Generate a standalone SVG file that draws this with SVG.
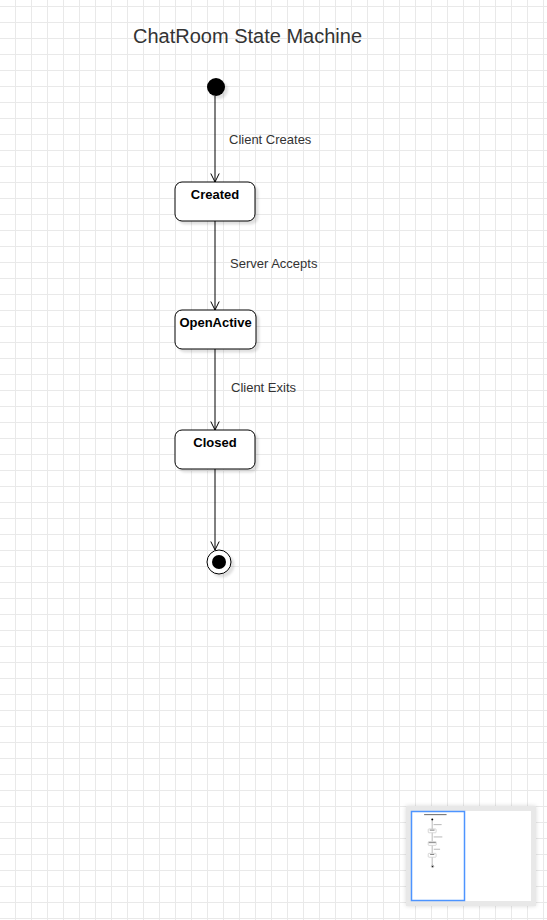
<svg xmlns="http://www.w3.org/2000/svg" width="547" height="920" viewBox="0 0 547 920">
  <style>
    .state { fill: #ffffff; stroke: #000000; stroke-width: 1; }
    .stext { font-family: "Liberation Sans", Arial, sans-serif; font-size: 13px; font-weight: bold; fill: #000000; text-anchor: middle; }
    .lbl { font-family: "Liberation Sans", Arial, sans-serif; font-size: 13px; fill: #333333; }
    .title { font-family: "Liberation Sans", Arial, sans-serif; font-size: 20px; fill: #333333; }
    .edge { stroke: #000000; stroke-width: 1; fill: none; }
    .mm { fill: #666666; }
  </style>
  <defs>
    <pattern id="grid" x="15" y="6" width="16" height="16" patternUnits="userSpaceOnUse">
      <path d="M0.5 0V16M0 0.5H16" stroke="#e9e9e9" stroke-width="1" fill="none"/>
    </pattern>
    <filter id="shadow" x="-30%" y="-30%" width="170%" height="170%">
      <feDropShadow dx="3" dy="3" stdDeviation="1.2" flood-color="#000000" flood-opacity="0.12"/>
    </filter>
    <filter id="mmshadow" x="-10%" y="-10%" width="120%" height="120%">
      <feDropShadow dx="0" dy="0" stdDeviation="2" flood-color="#000000" flood-opacity="0.15"/>
    </filter>
    <marker id="open" viewBox="0 0 10 10" refX="9" refY="5" markerWidth="10" markerHeight="10" markerUnits="userSpaceOnUse" orient="auto">
      <path d="M0.5 0.8L9 5L0.5 9.2" fill="none" stroke="#000000" stroke-width="1"/>
    </marker>
  </defs>

  <rect x="0" y="0" width="547" height="920" fill="#ffffff"/>
  <rect x="0" y="0" width="547" height="920" fill="url(#grid)"/>

  <text class="title" x="133" y="43">ChatRoom State Machine</text>

  <g id="connectors">
    <path class="edge" d="M215 96V182" marker-end="url(#open)"/>
    <path class="edge" d="M215 221V310" marker-end="url(#open)"/>
    <path class="edge" d="M215 349V430" marker-end="url(#open)"/>
    <path class="edge" d="M215 469V550" marker-end="url(#open)"/>
    <text class="lbl" x="229" y="144">Client Creates</text>
    <text class="lbl" x="230" y="268">Server Accepts</text>
    <text class="lbl" x="231" y="392">Client Exits</text>
  </g>

  <g id="initial">
    <circle cx="216" cy="87" r="9" fill="#000000" filter="url(#shadow)"/>
  </g>

  <g id="created">
    <rect class="state" x="175" y="182" width="80" height="39" rx="7" filter="url(#shadow)"/>
    <text class="stext" x="215" y="199">Created</text>
  </g>

  <g id="openactive">
    <rect class="state" x="175" y="310" width="81" height="39" rx="7" filter="url(#shadow)"/>
    <text class="stext" x="215.5" y="327">OpenActive</text>
  </g>

  <g id="closed">
    <rect class="state" x="175" y="430" width="80" height="39" rx="7" filter="url(#shadow)"/>
    <text class="stext" x="215" y="447">Closed</text>
  </g>

  <g id="final">
    <circle cx="219" cy="562" r="12" fill="#ffffff" stroke="#000000" stroke-width="1" filter="url(#shadow)"/>
    <circle cx="219" cy="562" r="7" fill="#000000"/>
  </g>

  <g id="minimap">
    <rect x="406" y="806" width="130" height="100" fill="#e8e8e8" filter="url(#mmshadow)"/>
    <rect x="411" y="811" width="120" height="90" fill="#ffffff"/>
    <g transform="translate(411,811) scale(0.0985)">
      <rect x="133" y="32" width="228" height="10" class="mm"/>
      <circle cx="216" cy="87" r="10" fill="#000000"/>
      <path d="M215 96V550" stroke="#888888" stroke-width="6" fill="none"/>
      <rect x="229" y="136" width="82" height="7" fill="#999999"/>
      <rect x="230" y="260" width="88" height="7" fill="#999999"/>
      <rect x="231" y="384" width="64" height="7" fill="#999999"/>
      <rect x="175" y="182" width="80" height="39" rx="7" fill="#ffffff" stroke="#cccccc" stroke-width="8"/>
      <rect x="191" y="190" width="48" height="8" class="mm"/>
      <rect x="175" y="310" width="81" height="39" rx="7" fill="#ffffff" stroke="#cccccc" stroke-width="8"/>
      <rect x="180" y="318" width="72" height="8" class="mm"/>
      <rect x="175" y="430" width="80" height="39" rx="7" fill="#ffffff" stroke="#cccccc" stroke-width="8"/>
      <rect x="194" y="438" width="42" height="8" class="mm"/>
      <circle cx="219" cy="562" r="12" fill="#ffffff" stroke="#777777" stroke-width="6"/>
      <circle cx="219" cy="562" r="7" fill="#000000"/>
    </g>
    <rect x="411.5" y="811.5" width="53" height="89" fill="none" stroke="#4d94ff" stroke-width="1.5"/>
  </g>
</svg>
